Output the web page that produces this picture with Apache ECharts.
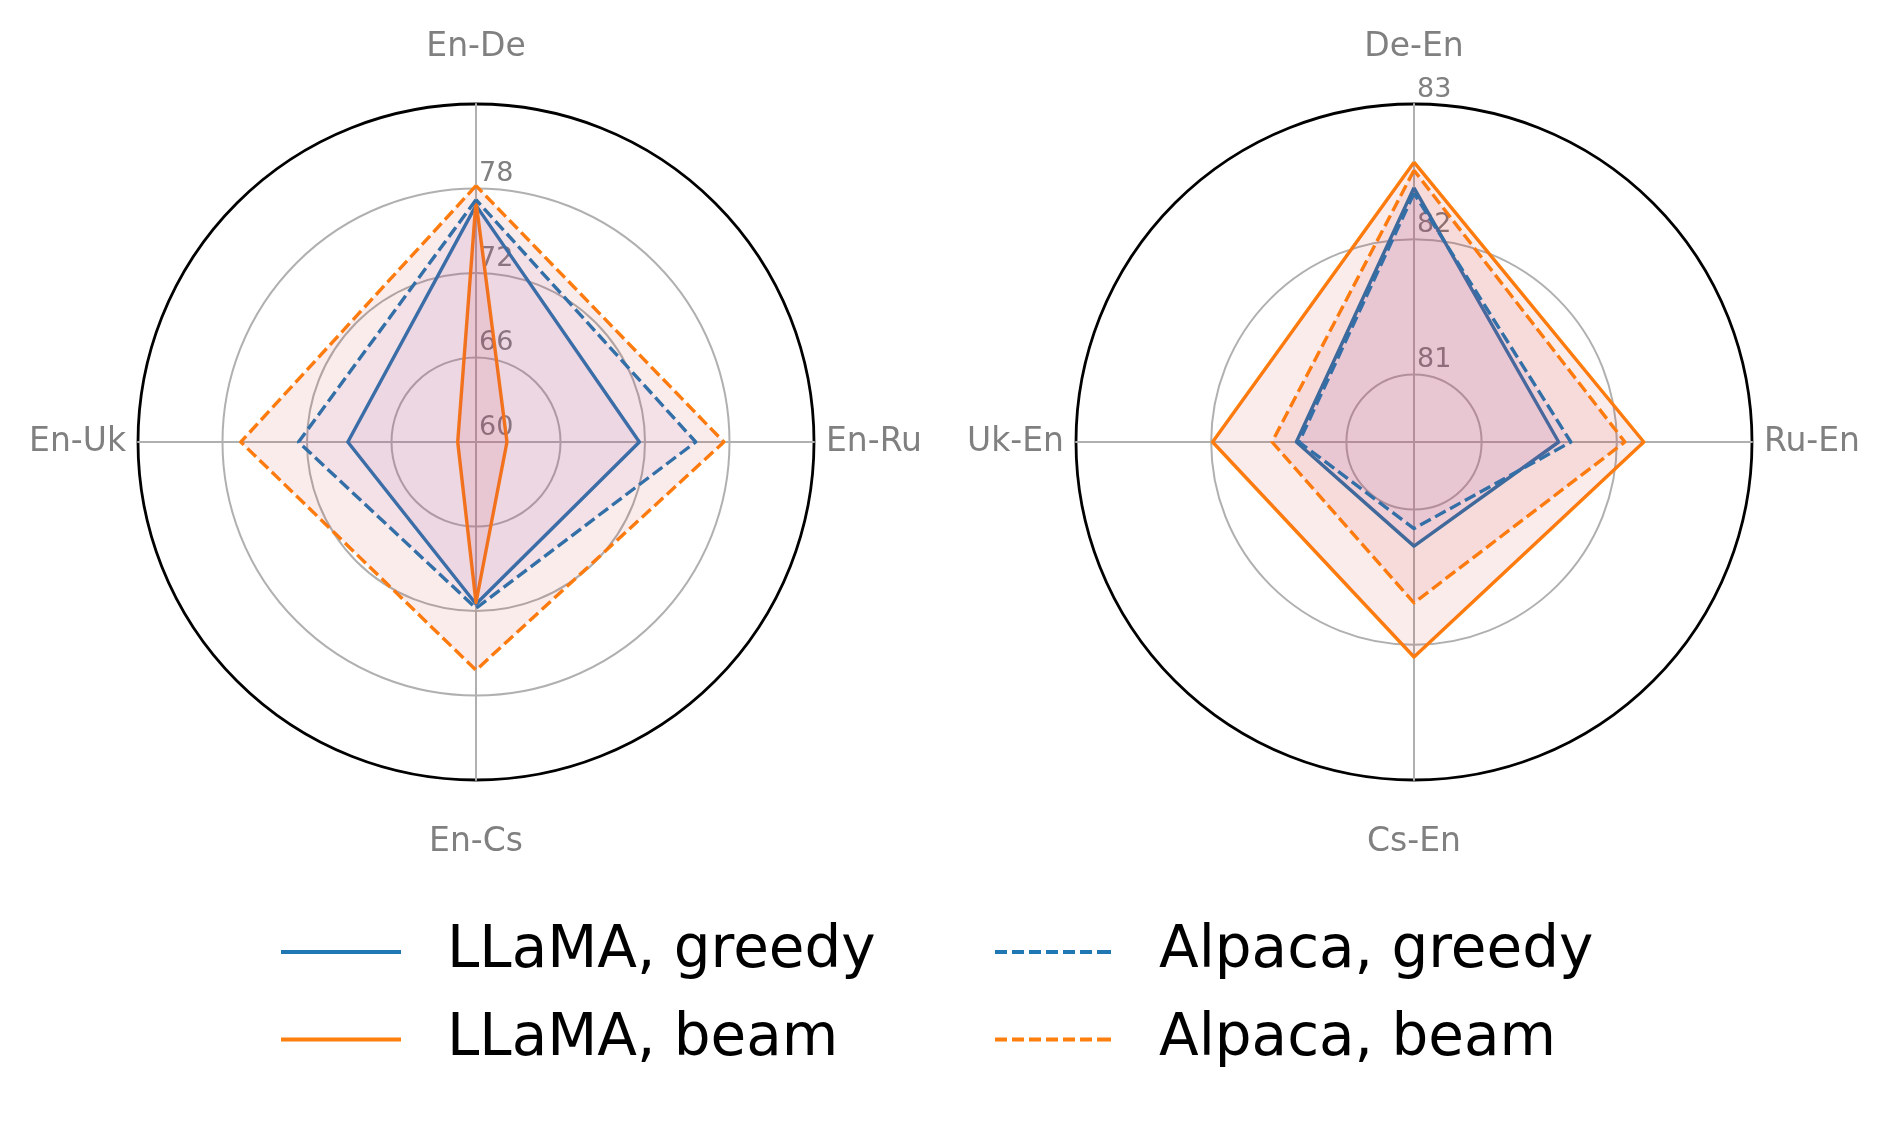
<!DOCTYPE html>
<html>
<head>
<meta charset="utf-8">
<script src="https://cdn.jsdelivr.net/npm/echarts@6/dist/echarts.min.js"></script>
<style>
html,body{margin:0;padding:0;background:#fff;}
#chart{width:1889px;height:1122px;}
</style>
</head>
<body>
<div id="chart"></div>
<script>
// ---- data ----
const leftIndicators = ['En-De', 'En-Uk', 'En-Cs', 'En-Ru'];
const rightIndicators = ['De-En', 'Uk-En', 'Cs-En', 'Ru-En'];
const seriesNames = ['LLaMA, greedy', 'LLaMA, beam', 'Alpaca, greedy', 'Alpaca, beam'];
// values ordered as indicators (top, left, bottom, right)
const leftLlamaGreedy = [76.8, 69.1, 71.5, 71.6];
const leftLlamaBeam = [77.1, 61.3, 71.4, 62.2];
const leftAlpacaGreedy = [77.2, 72.6, 71.8, 75.6];
const leftAlpacaBeam = [78.2, 76.7, 76.2, 77.6];
const rightLlamaGreedy = [82.38, 81.37, 81.27, 81.57];
const rightLlamaBeam = [82.57, 81.99, 82.09, 82.20];
const rightAlpacaGreedy = [82.34, 81.35, 81.14, 81.66];
const rightAlpacaBeam = [82.51, 81.55, 81.69, 82.06];
const leftRange = [60, 84];
const rightRange = [80.5, 83];
const leftTickLabels = [60, 66, 72, 78];
const rightTickLabels = [81, 82, 83];

// ---- style ----
const FONT = 'DejaVu Sans';
const BLUE = '#1f77b4';
const ORANGE = '#ff7f0e';
const GRID = '#b0b0b0';
const TEXT_GRAY = '#808080';
const lineColors = [BLUE, ORANGE, BLUE, ORANGE];
const lineTypes = ['solid', 'solid', [12, 5], [12, 5]];
const fillColors = ['rgba(148,103,189,0.08)', 'rgba(214,39,40,0.09)', 'rgba(148,103,189,0.08)', 'rgba(214,39,40,0.09)'];

const CY = 442, R = 338;
const centers = [[476, CY], [1414, CY]];
const nameGaps = [40, 12, 46, 12];

function indicatorList(names, range, ticks) {
  return names.map(function (n, i) {
    const ind = { name: n, min: range[0], max: range[1], nameGap: nameGaps[i] };
    if (i === 0) {
      ind.axisLabel = {
        show: true,
        color: TEXT_GRAY,
        fontSize: 27,
        fontFamily: FONT,
        margin: -3,
        align: 'left',
        verticalAlign: 'bottom',
        padding: [0, 0, 1, 0],
        formatter: function (v) {
          return ticks.some(function (t) { return Math.abs(t - v) < 1e-6; }) ? String(Math.round(v)) : '';
        }
      };
    }
    return ind;
  });
}

function mainRadar(center, names, range, ticks, splitNumber, colors) {
  return {
    center: center,
    radius: R,
    startAngle: 90,
    shape: 'circle',
    splitNumber: splitNumber,
    indicator: indicatorList(names, range, ticks),
    axisName: { color: TEXT_GRAY, fontSize: 33, fontFamily: FONT },
    nameGap: 12,
    splitLine: { lineStyle: { color: colors, width: 2 } },
    splitArea: { show: false },
    axisLine: { lineStyle: { color: GRID, width: 2 } },
    axisTick: { show: false },
    axisLabel: { show: false }
  };
}

function outerRadar(center) {
  return {
    center: center,
    radius: R,
    startAngle: 90,
    shape: 'circle',
    splitNumber: 1,
    indicator: [{ name: '', min: 0, max: 1 }, { name: '', min: 0, max: 1 }, { name: '', min: 0, max: 1 }, { name: '', min: 0, max: 1 }],
    axisName: { show: false },
    splitLine: { lineStyle: { color: ['transparent', '#000000'], width: 2.8 } },
    splitArea: { show: false },
    axisLine: { show: false },
    axisTick: { show: false },
    axisLabel: { show: false }
  };
}

function makeSeries(radarIndex, valuesList) {
  return valuesList.map(function (vals, i) {
    return {
      type: 'radar',
      name: seriesNames[i],
      radarIndex: radarIndex,
      symbol: 'none',
      silent: true,
      itemStyle: { color: lineColors[i] },
      lineStyle: { color: lineColors[i], width: 3.4, type: lineTypes[i] },
      areaStyle: { color: fillColors[i], opacity: 1 },
      data: [{ value: vals, name: seriesNames[i] }]
    };
  });
}

const solidIcon = 'path://M0,0H120V4H0Z';
const dashedIcon = 'path://M0,0h12v4h-12z M17,0h12v4h-12z M34,0h12v4h-12z M51,0h12v4h-12z M68,0h12v4h-12z M85,0h12v4h-12z M102,0h12v4h-12z M114,0h2v4h-2z';

const legendText = { fontSize: 58, fontFamily: FONT, color: '#000', lineHeight: 60 };

const option = {
  backgroundColor: '#ffffff',
  animation: false,
  radar: [
    mainRadar(centers[0], leftIndicators, leftRange, leftTickLabels, 4, [GRID, GRID, GRID, GRID, 'transparent']),
    mainRadar(centers[1], rightIndicators, rightRange, rightTickLabels, 5, ['transparent', GRID, 'transparent', GRID, 'transparent', 'transparent']),
    outerRadar(centers[0]),
    outerRadar(centers[1])
  ],
  legend: [
    {
      left: 281, top: 922, orient: 'vertical', padding: 0,
      itemWidth: 120, itemHeight: 4, itemGap: 27.5,
      selectedMode: false,
      itemStyle: { borderWidth: 0 },
      textStyle: Object.assign({ padding: [0, 0, 0, 41] }, legendText),
      data: [{ name: seriesNames[0], icon: solidIcon }, { name: seriesNames[1], icon: solidIcon }]
    },
    {
      left: 995, top: 922, orient: 'vertical', padding: 0,
      itemWidth: 116, itemHeight: 4, itemGap: 27.5,
      selectedMode: false,
      itemStyle: { borderWidth: 0 },
      textStyle: Object.assign({ padding: [0, 0, 0, 43] }, legendText),
      data: [{ name: seriesNames[2], icon: dashedIcon }, { name: seriesNames[3], icon: dashedIcon }]
    }
  ],
  series: makeSeries(0, [leftLlamaGreedy, leftLlamaBeam, leftAlpacaGreedy, leftAlpacaBeam])
    .concat(makeSeries(1, [rightLlamaGreedy, rightLlamaBeam, rightAlpacaGreedy, rightAlpacaBeam]))
};

const chart = echarts.init(document.getElementById('chart'), null, { renderer: 'canvas' });
chart.setOption(option);
</script>
</body>
</html>
